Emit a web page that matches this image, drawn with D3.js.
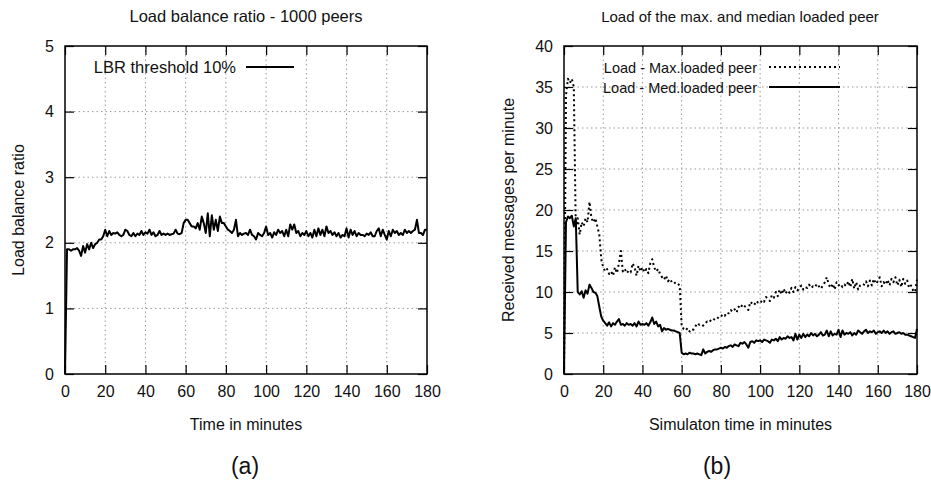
<!DOCTYPE html>
<html lang="en">
<head>
	<meta charset="utf-8">
	<title>Load balance ratio and peer load</title>
	<script type="text/javascript" src="https://d3js.org/d3.v7.min.js"></script>
	<style type="text/css">
		body { margin: 0; background: #fff; }
		text { font-family: "Liberation Sans", Arial, sans-serif; fill: #111; }
	</style>
</head>
<body>
	<script type="text/javascript">
		//Whole picture
		var w = 931;
		var h = 486;

		//Time axis, one sample per minute
		var minutes = d3.range(0, 181);
		var xTicks = [0, 20, 40, 60, 80, 100, 120, 140, 160, 180];

		//Panel (a): load balance ratio
		var lbrTicks = [0, 1, 2, 3, 4, 5];
		var lbr = [
			0, 1.9, 1.9, 1.88, 1.9, 1.9, 1.92, 1.88, 1.8, 1.95,
			1.85, 1.98, 1.9, 2.0, 1.92, 1.98, 2.0, 2.05, 2.05, 2.1,
			2.2, 2.1, 2.18, 2.12, 2.15, 2.14, 2.16, 2.12, 2.1, 2.12,
			2.2, 2.18, 2.12, 2.1, 2.15, 2.1, 2.14, 2.12, 2.18, 2.12,
			2.16, 2.14, 2.2, 2.12, 2.16, 2.1, 2.12, 2.18, 2.12, 2.14,
			2.12, 2.14, 2.12, 2.13, 2.14, 2.2, 2.14, 2.13, 2.15, 2.3,
			2.35, 2.35, 2.3, 2.25, 2.25, 2.22, 2.3, 2.2, 2.4, 2.3,
			2.15, 2.45, 2.1, 2.42, 2.2, 2.35, 2.18, 2.4, 2.3, 2.3,
			2.25, 2.2, 2.18, 2.15, 2.2, 2.35, 2.1, 2.15, 2.12, 2.14,
			2.15, 2.12, 2.2, 2.12, 2.1, 2.05, 2.15, 2.12, 2.1, 2.15,
			2.25, 2.12, 2.15, 2.08, 2.16, 2.12, 2.2, 2.15, 2.18, 2.1,
			2.2, 2.1, 2.28, 2.2, 2.28, 2.15, 2.18, 2.1, 2.15, 2.12,
			2.18, 2.1, 2.15, 2.08, 2.2, 2.1, 2.22, 2.12, 2.2, 2.1,
			2.25, 2.15, 2.18, 2.12, 2.16, 2.1, 2.15, 2.08, 2.12, 2.1,
			2.22, 2.08, 2.2, 2.12, 2.18, 2.1, 2.15, 2.12, 2.12, 2.1,
			2.14, 2.12, 2.16, 2.1, 2.1, 2.18, 2.22, 2.1, 2.2, 2.12,
			2.05, 2.18, 2.1, 2.2, 2.15, 2.18, 2.12, 2.15, 2.12, 2.2,
			2.15, 2.18, 2.15, 2.18, 2.2, 2.35, 2.15, 2.15, 2.12, 2.2,
			2.2
		];

		//Panel (b): received messages per minute
		var loadTicks = [0, 5, 10, 15, 20, 25, 30, 35, 40];
		var maxLoad = [
			0, 34, 36, 35.5, 36, 35, 18, 19, 17, 18.5,
			18, 19, 18.5, 21, 19, 18.5, 19, 18, 17, 14,
			13, 12.5, 12.8, 12.2, 12.5, 12, 13, 12.3, 13.5, 15,
			12.5, 12.8, 12.3, 12.6, 12.4, 13.5, 13, 12, 13.2, 12.5,
			13, 12.4, 12.8, 12.3, 13.5, 14, 13, 12.5, 12.8, 12.2,
			11.8, 11.5, 12, 11.3, 11.6, 11.2, 11, 11.2, 11, 10.8,
			5.8, 5.5, 5.3, 5.6, 5.2, 5.5, 5.4, 5.8, 6.2, 6,
			6.1, 5.9, 6.2, 6.4, 6.3, 6.6, 6.5, 6.8, 6.7, 7,
			7, 7.3, 7.1, 7.5, 7.4, 7.8, 7.6, 7.9, 7.5, 8.2,
			8, 8.5, 8.3, 8.1, 7.8, 8.8, 8.6, 8.4, 8.9, 8.7,
			8.6, 9, 8.8, 9.4, 9.1, 8.9, 9.6, 9.3, 10, 9.5,
			10.3, 9.7, 10.4, 9.8, 10.2, 9.9, 10.5, 10, 10.6, 10.2,
			10.4, 10.8, 10.3, 10.6, 10.5, 10.9, 10.5, 10.7, 10.6, 11,
			10.7, 10.4, 10.8, 11.2, 11.8, 10.9, 10.5, 11, 10.3, 11.2,
			10.8, 11, 10.6, 10.9, 10.7, 11.3, 10.6, 11.6, 10.4, 11.2,
			10.3, 10.8, 11, 10.9, 11.3, 10.7, 11.4, 10.8, 11.6, 11,
			11.3, 11.8, 10.7, 11.2, 10.9, 11.5, 10.8, 11.6, 11.2, 11.8,
			10.8, 11.5, 10.6, 11.6, 11, 11.4, 10.5, 10.8, 10.2, 10,
			11.5
		];
		var medLoad = [
			0, 18.5, 19.2, 19, 19.3, 18, 19, 10, 9.7, 10.1,
			9.3, 10.2, 9.8, 10.9, 10.5, 10, 9.9, 9.5, 8.2, 7,
			6.5, 6.2, 5.9, 6.3, 5.8, 6.2, 6, 6.4, 6.7, 6,
			6.1, 5.9, 6.2, 6, 6.1, 5.9, 6.2, 5.8, 6.4, 6,
			6.1, 6, 6.2, 5.9, 6.3, 6.9, 6.1, 6.4, 5.8, 6,
			5.2, 5.6, 5.4, 5.5, 5.4, 5.3, 5.3, 5.2, 5.1, 5,
			2.6, 2.4, 2.5, 2.4, 2.6, 2.5, 2.5, 2.4, 2.5, 2.4,
			2.3, 3, 2.5, 2.7, 2.8, 2.7, 2.9, 3, 3, 3.1,
			3.2, 3.1, 3.3, 3.2, 3.4, 3.5, 3.3, 3.6, 3.5, 3.4,
			3.8, 3.7, 3.9, 3.6, 3.2, 3.9, 4, 3.8, 4.1, 4,
			4.1, 3.9, 4.2, 4.1, 4, 3.8, 4.2, 4.1, 4.3, 4,
			4.5, 4.2, 4.4, 4.3, 4.6, 4.4, 4.5, 4.1, 4.9, 4.2,
			4.8, 4.4, 4.9, 4.5, 4.8, 4.6, 5, 4.7, 4.9, 4.6,
			4.8, 5.1, 4.7, 4.8, 5.3, 4.6, 5.2, 4.7, 4.9, 4.8,
			5.4, 4.5, 5.3, 4.8, 5, 4.9, 5.1, 4.7, 5, 4.8,
			5.3, 5.1, 4.9, 5.2, 5.4, 5, 5.2, 5.1, 5.3, 4.9,
			5.1, 5.2, 5, 5.3, 5, 5.2, 4.9, 5.1, 5.2, 4.9,
			5, 5.1, 4.9, 5, 4.8, 4.8, 4.7, 4.6, 4.5, 4.4,
			5.5
		];

		var svg = d3.select("body")
			.append("svg")
			.attr("width", w)
			.attr("height", h);

		var panels = [
			{
				left: 65, right: 427, top: 46, bottom: 374,
				yMax: 5, yTicks: lbrTicks,
				title: "Load balance ratio - 1000 peers", titleX: 246, titleSize: "16.5px",
				xTitle: "Time in minutes",
				yTitle: "Load balance ratio",
				yTitleX: 24,
				caption: "(a)", captionX: 245,
				series: [ { label: "LBR threshold 10%", values: lbr, dash: null } ],
				legendSize: "16.5px", legendTextX: 236, legendLine: [246, 294], legendY: 67
			},
			{
				left: 564, right: 917, top: 46, bottom: 374,
				yMax: 40, yTicks: loadTicks,
				title: "Load of the max. and median loaded peer", titleX: 740, titleSize: "15px",
				xTitle: "Simulaton time in minutes",
				yTitle: "Received messages per minute",
				yTitleX: 514,
				caption: "(b)", captionX: 717,
				series: [
					{ label: "Load - Max.loaded peer", values: maxLoad, dash: "2,3" },
					{ label: "Load - Med.loaded peer", values: medLoad, dash: null }
				],
				legendSize: "14.5px", legendTextX: 757, legendLine: [769, 840], legendY: 67
			}
		];

		panels.forEach(function(p) {
			var x = d3.scaleLinear().domain([0, 180]).range([p.left, p.right]);
			var y = d3.scaleLinear().domain([0, p.yMax]).range([p.bottom, p.top]);
			var g = svg.append("g");

			//Dotted grid at the inner ticks
			g.selectAll("line.vgrid")
				.data(xTicks.slice(1, -1))
				.enter()
				.append("line")
				.attr("x1", function(d) { return x(d); })
				.attr("x2", function(d) { return x(d); })
				.attr("y1", p.top)
				.attr("y2", p.bottom)
				.attr("stroke", "#999")
				.attr("stroke-dasharray", "1.5,3");
			g.selectAll("line.hgrid")
				.data(p.yTicks.slice(1, -1))
				.enter()
				.append("line")
				.attr("x1", p.left)
				.attr("x2", p.right)
				.attr("y1", function(d) { return y(d); })
				.attr("y2", function(d) { return y(d); })
				.attr("stroke", "#999")
				.attr("stroke-dasharray", "1.5,3");

			//Axes with inward ticks on all four sides
			var axes = [
				[d3.axisBottom(x).tickValues(xTicks).tickSize(-9).tickPadding(12).tickFormat(d3.format("d")), "translate(0," + p.bottom + ")"],
				[d3.axisTop(x).tickValues(xTicks).tickSize(-9).tickFormat(""), "translate(0," + p.top + ")"],
				[d3.axisLeft(y).tickValues(p.yTicks).tickSize(-9).tickPadding(11).tickFormat(d3.format("d")), "translate(" + p.left + ",0)"],
				[d3.axisRight(y).tickValues(p.yTicks).tickSize(-9).tickFormat(""), "translate(" + p.right + ",0)"]
			];
			axes.forEach(function(a) {
				var ag = g.append("g").attr("transform", a[1]).call(a[0]);
				ag.select(".domain").remove();
				ag.selectAll(".tick line").attr("stroke", "#000").attr("stroke-width", 1.2);
				ag.selectAll(".tick text")
					.attr("font-family", "Liberation Sans, Arial, sans-serif")
					.attr("font-size", "16px")
					.attr("fill", "#111");
			});

			//Data lines
			p.series.forEach(function(s) {
				var line = d3.line()
					.x(function(d, i) { return x(minutes[i]); })
					.y(function(d) { return y(d); });
				g.append("path")
					.datum(s.values)
					.attr("d", line)
					.attr("fill", "none")
					.attr("stroke", "#000")
					.attr("stroke-width", 2)
					.attr("stroke-linejoin", "round")
					.attr("stroke-dasharray", s.dash);
			});

			//Frame
			g.append("rect")
				.attr("x", p.left)
				.attr("y", p.top)
				.attr("width", p.right - p.left)
				.attr("height", p.bottom - p.top)
				.attr("fill", "none")
				.attr("stroke", "#000")
				.attr("stroke-width", 1.5);

			//Legend, one row per series
			p.series.forEach(function(s, i) {
				var ly = p.legendY + i * 20;
				g.append("text")
					.attr("x", p.legendTextX)
					.attr("y", ly + 6)
					.attr("text-anchor", "end")
					.attr("font-size", p.legendSize)
					.text(s.label);
				g.append("line")
					.attr("x1", p.legendLine[0])
					.attr("x2", p.legendLine[1])
					.attr("y1", ly)
					.attr("y2", ly)
					.attr("stroke", "#000")
					.attr("stroke-width", 2)
					.attr("stroke-dasharray", s.dash);
			});

			g.append("text")
				.attr("x", p.titleX)
				.attr("y", 22)
				.attr("text-anchor", "middle")
				.attr("font-size", p.titleSize)
				.text(p.title);
			g.append("text")
				.attr("x", (p.left + p.right) / 2)
				.attr("y", 430)
				.attr("text-anchor", "middle")
				.attr("font-size", "16px")
				.text(p.xTitle);
			g.append("text")
				.attr("transform", "translate(" + p.yTitleX + "," + ((p.top + p.bottom) / 2) + ") rotate(-90)")
				.attr("text-anchor", "middle")
				.attr("font-size", "16px")
				.text(p.yTitle);
			g.append("text")
				.attr("x", p.captionX)
				.attr("y", 474)
				.attr("text-anchor", "middle")
				.attr("font-family", "Liberation Serif, serif")
				.attr("font-size", "23px")
				.text(p.caption);
		});
	</script>
</body>
</html>
